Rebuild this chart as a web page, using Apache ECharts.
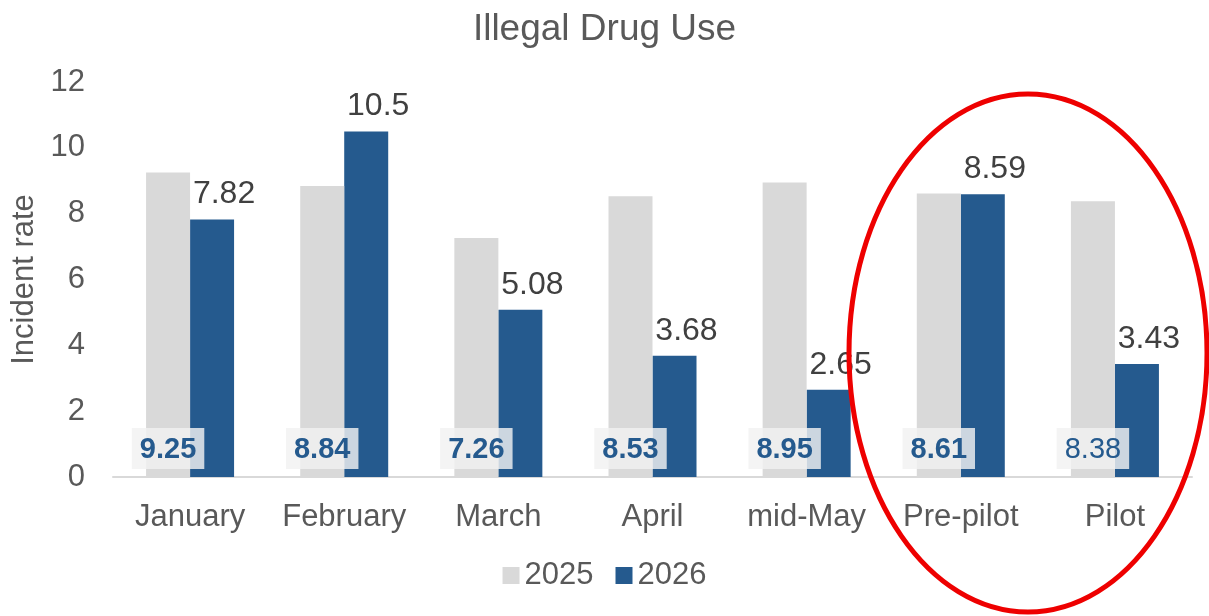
<!DOCTYPE html>
<html>
<head>
<meta charset="utf-8">
<script src="https://cdn.jsdelivr.net/npm/echarts@6/dist/echarts.min.js"></script>
<style>
  html, body { margin: 0; padding: 0; background: #fff; }
  #main { width: 1209px; height: 616px; }
</style>
</head>
<body>
<div id="main"></div>
<script>
var categories = ['January', 'February', 'March', 'April', 'mid-May', 'Pre-pilot', 'Pilot'];
var values2025 = [9.25, 8.84, 7.26, 8.53, 8.95, 8.61, 8.38];
var values2026 = [7.82, 10.5, 5.08, 3.68, 2.65, 8.59, 3.43];
var yTicks = [0, 2, 4, 6, 8, 10, 12];

var FONT = '"Liberation Sans", Arial, sans-serif';
var GREY_TEXT = '#595959';
var BLUE = '#255a8e';
var LIGHT = '#d9d9d9';

// the last 2025 label is drawn plain, the others bold
var data2025 = values2025.map(function (v, i) {
    return {
        value: v,
        label: { fontWeight: i === values2025.length - 1 ? 'normal' : 'bold' }
    };
});

var dom = document.getElementById('main');
var myChart = echarts.init(dom, null, { renderer: 'canvas' });

var option = {
    backgroundColor: '#fff',
    animation: false,
    textStyle: { fontFamily: FONT },
    title: {
        text: 'Illegal Drug Use',
        left: 'center',
        top: 6,
        textStyle: {
            color: GREY_TEXT,
            fontFamily: FONT,
            fontSize: 37,
            fontWeight: 'normal'
        }
    },
    legend: {
        bottom: 20,
        left: 'center',
        itemWidth: 17,
        itemHeight: 17,
        itemGap: 22,
        icon: 'rect',
        textStyle: { color: GREY_TEXT, fontFamily: FONT, fontSize: 31 },
        data: ['2025', '2026']
    },
    grid: {
        left: 113,
        right: 17,
        top: 82,
        bottom: 139,
        outerBoundsMode: 'none'
    },
    xAxis: {
        type: 'category',
        data: categories,
        axisLine: { lineStyle: { color: LIGHT, width: 2 } },
        axisTick: { show: false },
        axisLabel: {
            interval: 0,
            hideOverlap: false,
            color: GREY_TEXT,
            fontFamily: FONT,
            fontSize: 31,
            margin: 25
        }
    },
    yAxis: {
        type: 'value',
        min: yTicks[0],
        max: yTicks[yTicks.length - 1],
        interval: 2,
        name: 'Incident rate',
        nameLocation: 'middle',
        nameGap: 70,
        nameTextStyle: { color: GREY_TEXT, fontFamily: FONT, fontSize: 31 },
        axisLine: { show: false },
        axisTick: { show: false },
        splitLine: { show: false },
        axisLabel: {
            color: GREY_TEXT,
            fontFamily: FONT,
            fontSize: 31,
            margin: 28
        }
    },
    series: [
        {
            name: '2025',
            type: 'bar',
            data: data2025,
            barWidth: 44,
            barGap: '0%',
            itemStyle: { color: LIGHT },
            label: {
                show: true,
                position: 'insideBottom',
                distance: 8,
                color: BLUE,
                fontFamily: FONT,
                fontSize: 29,
                backgroundColor: 'rgba(242,242,242,0.82)',
                padding: [7, 8, 5, 8]
            },
            z: 3
        },
        {
            name: '2026',
            type: 'bar',
            data: values2026,
            barWidth: 44,
            itemStyle: { color: BLUE },
            label: {
                show: true,
                position: 'top',
                distance: 9,
                offset: [12, 0],
                color: '#404040',
                fontFamily: FONT,
                fontSize: 32
            },
            z: 2
        }
    ],
    graphic: [
        {
            type: 'ellipse',
            shape: { cx: 1028, cy: 353, rx: 179, ry: 259 },
            style: { fill: 'none', stroke: '#ee0000', lineWidth: 5 },
            z: 100
        }
    ]
};

myChart.setOption(option, true);
</script>
</body>
</html>
